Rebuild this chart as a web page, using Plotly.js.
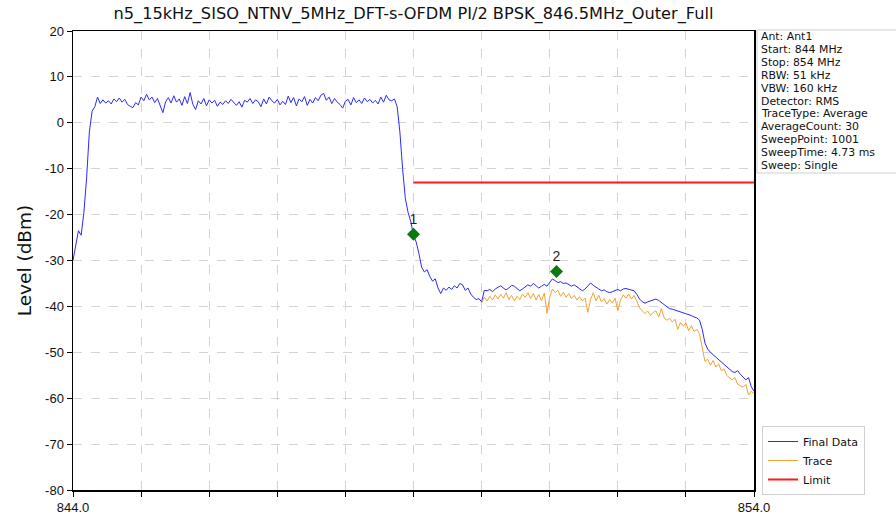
<!DOCTYPE html>
<html>
<head>
<meta charset="utf-8">
<script src="https://cdn.plot.ly/plotly-3.0.1.min.js"></script>
<style>html,body{margin:0;padding:0;background:#fff;}#chart{width:896px;height:517px;}</style>
</head>
<body>
<div id="chart"></div>
<script>
// ---- data ----
const FREQ_START = 844.0;   // MHz
const FREQ_STEP = 0.04;     // MHz between plotted points
const TRACE_START = 850.0;  // MHz, where "Trace" begins

const finalData = [
  -30, -27, -23.5, -24.5, -19.5, -12, -2, 2.5, 3.5,
  5.6, 4.2, 5.0, 4.3, 4.8, 4.1, 5.2, 4.6, 5.4, 4.5, 5.1,
  4.0, 3.6, 3.3, 4.4, 3.9, 5.6, 4.8, 6.2, 5.0, 5.6,
  4.4, 5.3, 3.9, 2.2, 4.6, 5.5, 4.3, 5.9, 4.5, 5.2,
  3.8, 5.7, 4.2, 6.6, 4.0, 2.9, 4.8, 4.1, 5.3, 3.7,
  5.0, 4.3, 4.9, 3.6, 4.5, 4.0, 4.8, 4.2, 5.1, 4.4,
  3.8, 4.6, 3.4, 4.9, 4.5, 5.3, 4.2, 5.0, 4.6, 3.5,
  5.2, 4.1, 5.6, 4.8, 4.3, 5.1, 3.9, 4.7, 4.0, 5.8,
  4.4, 5.5, 3.7, 5.2, 4.6, 5.7, 3.8, 5.1, 4.3, 5.5,
  4.8, 6.0, 6.4, 4.9, 5.6, 4.2, 5.3, 4.5, 4.0, 3.2,
  4.7, 5.1, 3.9, 5.5, 4.4, 5.0, 4.2, 5.4, 4.6, 5.1,
  4.3, 4.9, 4.1, 5.6, 4.5, 6.0, 5.0, 4.8, 5.2, 3.5,
  -2, -10, -16.5, -19.5, -21.5, -24.5, -26, -28.5, -31.5, -32.5,
  -32, -33.5, -34.5, -34, -36, -37.2, -36, -36.5, -35.8, -36.3,
  -35.5, -36, -35, -35.3, -36.5, -36, -37.3, -38, -38.5, -38.3, -39,
  -36.5, -36.6, -36.3, -36.8, -36.2, -35.8, -35.5, -36, -36.4, -36,
  -35.4, -35.6, -36.2, -36.6, -36.2, -35.8, -35.3, -35.6, -35, -35.5,
  -36, -35.6, -35.2, -35.6, -34.8, -34, -34.4, -34.8, -34.6, -35,
  -34.9, -35.2, -35.6, -35.3, -35.7, -36.1, -36.6, -36.2, -35.5, -34.9,
  -35.4, -35.9, -36.2, -36.6, -36.4, -36.8, -37, -36.8, -36.5, -36.3,
  -36.6, -36.2, -36.1, -36.3, -36.4, -36.6, -37.4, -38.4, -39, -39.3,
  -39, -38.8, -38.6, -38.4, -38.7, -39.2, -39.7, -40.1, -40.5, -40.6,
  -40.8, -41, -41.2, -41.3, -41.6, -41.7, -42, -42.3, -42.5, -43,
  -45, -48, -49.3, -50, -50.5, -51, -51.5, -52, -52.5, -53,
  -53.6, -54.2, -54.4, -54, -54.8, -55.5, -56, -55.5, -57.5, -58.5
];

const traceData = [
  -39.3, -38, -38.8, -37.8, -38.6, -37.5, -38.4, -37.4, -38.2, -37,
  -38.5, -37.6, -38.8, -37.8, -38.5, -37.3, -38, -37, -38.3, -37.2,
  -38.6, -37.4, -38.8, -37.1, -41.5, -38, -36.2, -37, -36.5, -37.8,
  -36.9, -38, -37.2, -38.3, -37.6, -38.6, -37.9, -38.8, -38.2, -41.3,
  -38.5, -37, -38.8, -37.6, -39, -38.3, -39.5, -38.5, -39.3, -38.2,
  -41, -38.6, -37.5, -38.2, -37.3, -38.4, -37.6, -39, -40.3, -41,
  -41.6, -41, -42, -41.3, -41, -42.3, -40.5, -42.5, -43, -42.6,
  -43.4, -42.8, -45, -43.5, -44.3, -43.6, -45.3, -44.2, -45.5, -45,
  -46, -49, -52, -51.5, -52.8, -51.8, -53.2, -52.5, -54, -53.6,
  -55, -55.6, -56, -55.5, -57, -57.3, -57.6, -57, -59.3, -58.5, -59
];

const limitFreq = [849.0, 854.0];
const limitLevel = [-13, -13];

const markerFreq = [849.0, 851.1];
const markerLevel = [-24.3, -32.4];
const markerLabels = ['1', '2'];

const xTickVals = [844, 845, 846, 847, 848, 849, 850, 851, 852, 853, 854];
const xTickText = ['844.0', '', '', '', '', '', '', '', '', '', '854.0'];
const yTickVals = [-80, -70, -60, -50, -40, -30, -20, -10, 0, 10, 20];
const yTickText = ['-80', '-70', '-60', '-50', '-40', '-30', '-20', '-10', '0', '10', '20'];

const infoLines = [
  'Ant: Ant1', 'Start: 844 MHz', 'Stop: 854 MHz', 'RBW: 51 kHz', 'VBW: 160 kHz',
  'Detector: RMS', 'TraceType: Average', 'AverageCount: 30', 'SweepPoint: 1001',
  'SweepTime: 4.73 ms', 'Sweep: Single'
];

const titleText = 'n5_15kHz_SISO_NTNV_5MHz_DFT-s-OFDM PI/2 BPSK_846.5MHz_Outer_Full';

// ---- build ----
const finalX = finalData.map((_, i) => +(FREQ_START + i * FREQ_STEP).toFixed(3));
const traceX = traceData.map((_, i) => +(TRACE_START + i * FREQ_STEP).toFixed(3));

const FONT = 'Liberation Sans, Arial, sans-serif';
const WIDE = 'DejaVu Sans, Verdana, sans-serif';

const traces = [
  {x: finalX, y: finalData, type: 'scatter', mode: 'lines', name: 'Final Data',
   line: {color: '#2a2aff', width: 1}},
  {x: traceX, y: traceData, type: 'scatter', mode: 'lines', name: 'Trace',
   line: {color: '#f5a033', width: 1}},
  {x: limitFreq, y: limitLevel, type: 'scatter', mode: 'lines', name: 'Limit',
   line: {color: '#ff1a1a', width: 2}},
  {x: markerFreq, y: markerLevel, type: 'scatter', mode: 'markers+text', showlegend: false,
   text: markerLabels, textposition: 'top center', textfont: {family: FONT, size: 14, color: '#222'},
   marker: {symbol: 'diamond', size: 10, color: '#0a7a0a'}}
];

// plot area in pixels: x 73..754, y 31..490
const px = p => (p - 73) / 681;
const py = p => (490 - p) / 459;

const annotations = infoLines.map((t, k) => ({
  text: t, xref: 'paper', yref: 'paper', x: px(759), y: py(37 + 12.8 * k),
  xanchor: 'left', yanchor: 'middle', showarrow: false,
  font: {family: WIDE, size: 10.9, color: '#111'}
}));

const layout = {
  width: 896, height: 517, autosize: false,
  margin: {l: 73, r: 142, t: 31, b: 27, pad: 0},
  paper_bgcolor: '#fff', plot_bgcolor: '#fff',
  font: {family: FONT, color: '#111'},
  title: {text: titleText, font: {family: WIDE, size: 16.2, color: '#111'},
          x: 0.5, xref: 'paper', xanchor: 'center', y: 1 - 13 / 517, yref: 'container', yanchor: 'middle'},
  xaxis: {range: [844, 854], tickmode: 'array', tickvals: xTickVals, ticktext: xTickText,
          ticks: 'outside', ticklen: 5, tickcolor: '#000', tickwidth: 1,
          showline: true, linecolor: '#000', linewidth: 1.5, mirror: true,
          showgrid: true, gridcolor: '#d4d4d4', griddash: 'dash', gridwidth: 1, zeroline: false,
          tickfont: {family: FONT, size: 13, color: '#111'}},
  yaxis: {range: [-80, 20], tickmode: 'array', tickvals: yTickVals, ticktext: yTickText,
          ticks: 'outside', ticklen: 5, tickcolor: '#000', tickwidth: 1,
          showline: true, linecolor: '#000', linewidth: 1.5, mirror: true,
          showgrid: true, gridcolor: '#d4d4d4', griddash: 'dash', gridwidth: 1, zeroline: false,
          tickfont: {family: FONT, size: 13, color: '#111'},
          title: {text: 'Level (dBm)', font: {family: WIDE, size: 18.5, color: '#111'}, standoff: 8}},
  legend: {x: px(762), y: py(426), xanchor: 'left', yanchor: 'top',
           bgcolor: '#fff', bordercolor: '#d0d0d0', borderwidth: 1,
           font: {family: WIDE, size: 11, color: '#111'}, itemwidth: 30, tracegroupgap: 0},
  shapes: [{type: 'rect', xref: 'paper', yref: 'paper', x0: px(757), x1: px(900), y0: py(173), y1: py(30),
            line: {color: '#d0d0d0', width: 1}, fillcolor: 'rgba(0,0,0,0)'}],
  annotations: annotations,
  showlegend: true
};

Plotly.newPlot('chart', traces, layout, {displayModeBar: false, staticPlot: true});
</script>
</body>
</html>
